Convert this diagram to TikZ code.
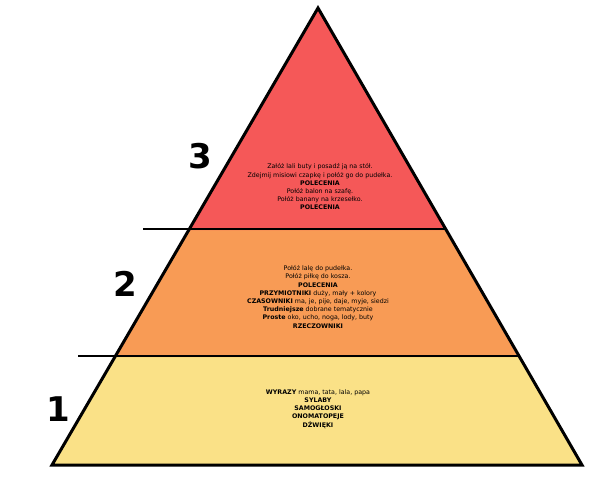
\documentclass[tikz,border=0pt]{standalone}
\usepackage{fontspec}
\setmainfont{DejaVu Sans}
\begin{document}
\begin{tikzpicture}[x=1pt,y=-1pt,
  txt/.style={align=center,font=\fontsize{6.3}{8.2}\selectfont,inner sep=0},
  num/.style={font=\fontsize{34}{34}\selectfont\bfseries},
  sep/.style={line width=2.2pt}]
\useasboundingbox (0,0) rectangle (600,480);
\coordinate (A) at (318,8);
\coordinate (BL) at (52,465);
\coordinate (BR) at (582,465);
\fill[fill={rgb,255:red,250;green,225;blue,135}] (116,357) -- (518,357) -- (BR) -- (BL) -- cycle;
\fill[fill={rgb,255:red,248;green,155;blue,85}] (190,230) -- (445,230) -- (518,357) -- (116,357) -- cycle;
\fill[fill={rgb,255:red,245;green,88;blue,88}] (A) -- (445,230) -- (190,230) -- cycle;
\draw[line width=3pt,line join=miter] (A) -- (BR) -- (BL) -- cycle;
\coordinate (l1a) at (143,229); \coordinate (l1b) at (445,229);
\coordinate (l2a) at (78,356); \coordinate (l2b) at (518,356);
\draw[sep] (l1a) -- (l1b);
\draw[sep] (l2a) -- (l2b);
\node[num] (n3) at (200,156) {3};
\node[num] (n2) at (125,284) {2};
\node[num] (n1) at (58,409) {1};
\node[txt] (t3) at (320,187) {Załóż lali buty i posadź ją na stół.\\Zdejmij misiowi czapkę i połóż go do pudełka.\\\textbf{POLECENIA}\\Połóż balon na szafę.\\Połóż banany na krzesełko.\\\textbf{POLECENIA}};
\node[txt] (t2) at (318,297) {Połóż lalę do pudełka.\\Połóż piłkę do kosza.\\\textbf{POLECENIA}\\\textbf{PRZYMIOTNIKI} duży, mały + kolory\\\textbf{CZASOWNIKI} ma, je, pije, daje, myje, siedzi\\\textbf{Trudniejsze} dobrane tematycznie\\\textbf{Proste} oko, ucho, noga, lody, buty\\\textbf{RZECZOWNIKI}};
\node[txt] (t1) at (318,409) {\textbf{WYRAZY} mama, tata, lala, papa\\\textbf{SYLABY}\\\textbf{SAMOGŁOSKI}\\\textbf{ONOMATOPEJE}\\\textbf{DŹWIĘKI}};
\end{tikzpicture}
\end{document}
